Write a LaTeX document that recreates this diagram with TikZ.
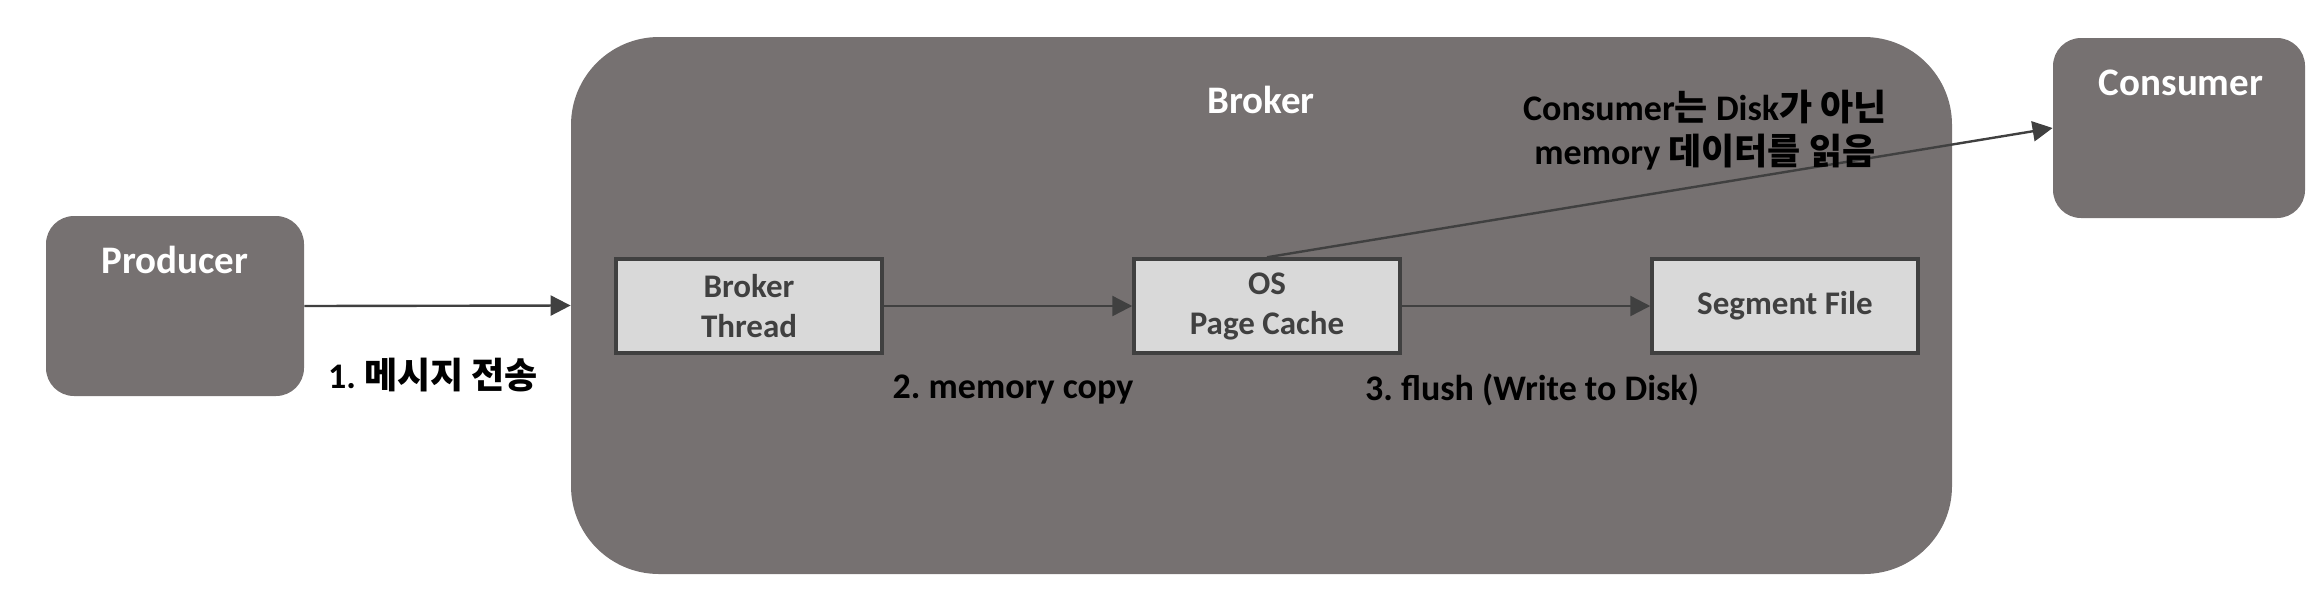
\documentclass[tikz,border=0pt]{standalone}
\usepackage{fontspec}
\setmainfont{Carlito}
\newfontfamily\kr{Noto Sans CJK KR}
\usetikzlibrary{arrows.meta}
\frenchspacing
\definecolor{boxgrey}{HTML}{767171}
\definecolor{inner}{HTML}{D9D9D9}
\definecolor{edge}{HTML}{404040}
\tikzset{
  bigbox/.style={fill=boxgrey, draw=none, rectangle, rounded corners=#1, inner sep=0pt},
  innerbox/.style={fill=inner, draw=edge, line width=1.75pt, minimum width=133pt, minimum height=47pt, inner sep=0pt, align=center, text=edge, font=\fontsize{16.5}{20}\selectfont\bfseries},
  titletext/.style={text=white, font=\fontsize{19.5}{23}\selectfont\bfseries, inner sep=0pt},
  labeltext/.style={text=black, font=\fontsize{18}{21.5}\selectfont\bfseries, inner sep=0pt, align=center},
  flow/.style={draw=edge, line width=1.2pt, -{Triangle[length=10pt,width=10pt]}}
}
\begin{document}
\begin{tikzpicture}[x=0.5pt,y=-0.5pt]
\useasboundingbox (0,0) rectangle (2306,596);
\node[bigbox=14pt, minimum width=129pt, minimum height=90pt] (producer) at (175,306) {};
\node[bigbox=44pt, minimum width=690.5pt, minimum height=268.5pt] (broker) at (1261.5,305.5) {};
\node[bigbox=14pt, minimum width=126pt, minimum height=90pt] (consumer) at (2179,128) {};
\node[titletext] (ptitle) at (175,260) {Producer};
\node[titletext] (btitle) at (1261,100) {Broker};
\node[titletext] (ctitle) at (2181,83) {Consumer};
\node[innerbox] (thread) at (749,306) {Broker\\Thread};
\node[innerbox] (cache) at (1267,306) {OS\\Page Cache};
\node[innerbox] (segment) at (1785,306) {Segment File};
\draw[flow] (producer.east) -- (broker.west);
\draw[flow] (thread.east) -- (cache.west);
\draw[flow] (cache.east) -- (segment.west);
\draw[flow] (cache.north) -- (consumer.west);
\node[labeltext] (l1) at (433,375) {1. {\kr 메시지 전송}};
\node[labeltext] (l2) at (1013,390) {2. memory copy};
\node[labeltext] (l3) at (1532,390) {3. flush (Write to Disk)};
\node[labeltext, font=\fontsize{18}{22}\selectfont\bfseries] (l4) at (1705,130) {Consumer{\kr 는} Disk{\kr 가 아닌}\\memory {\kr 데이터를 읽음}};
\end{tikzpicture}
\end{document}
